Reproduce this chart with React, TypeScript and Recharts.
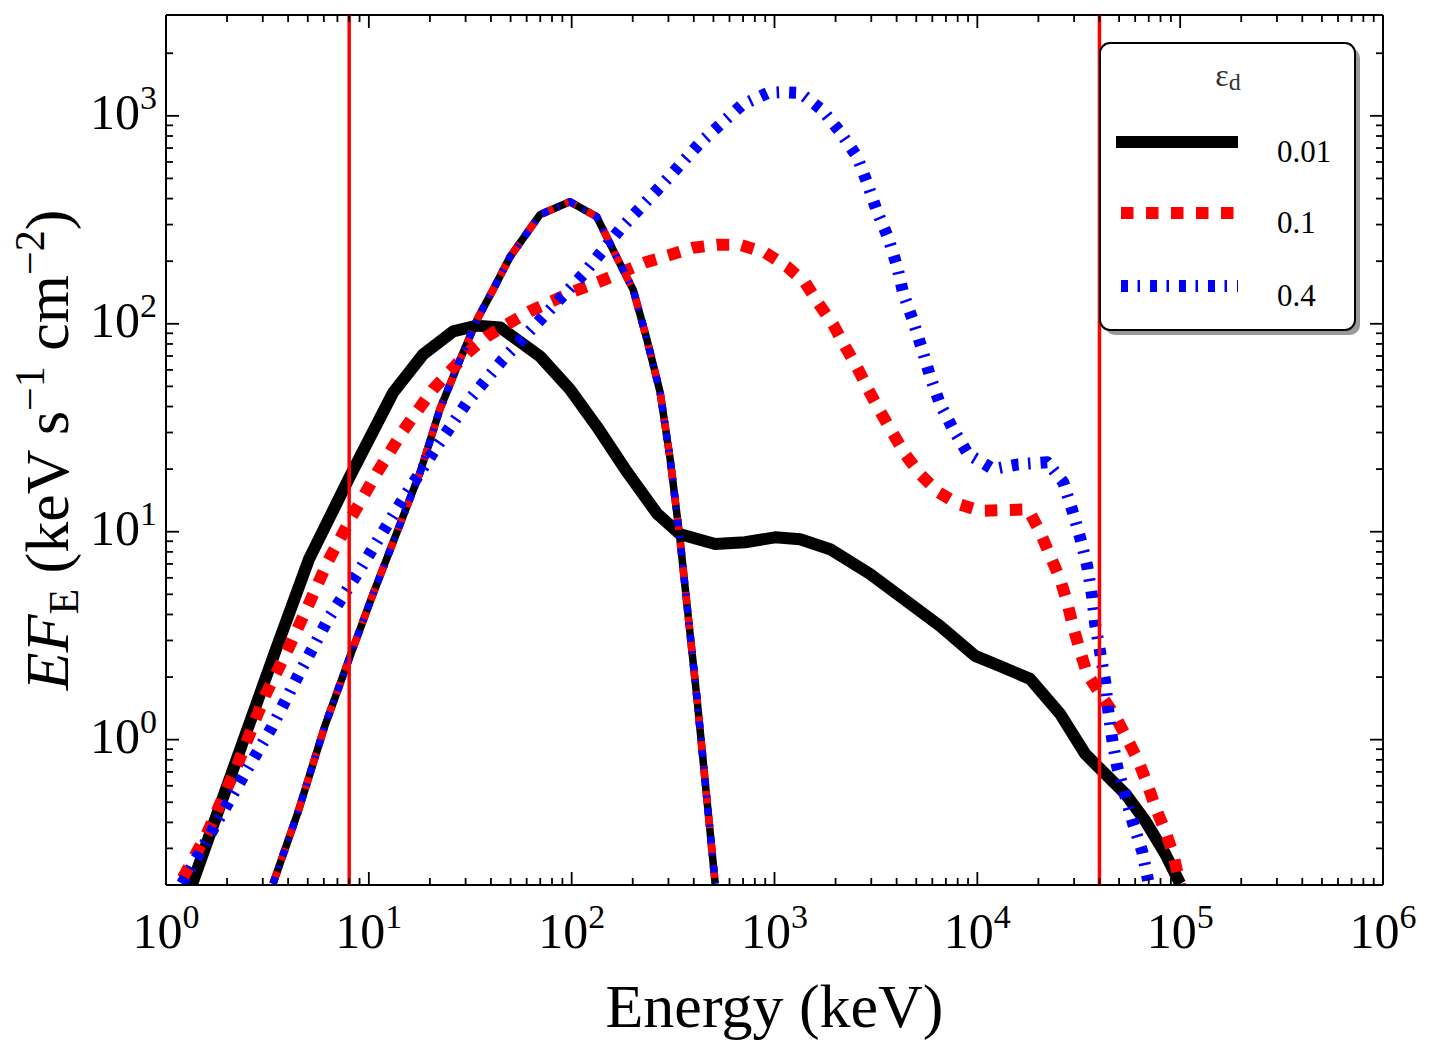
import React from 'react';
import { LineChart, Line, XAxis, YAxis, ReferenceLine, Label } from 'recharts';

const FONT = '"Liberation Serif", "Times New Roman", serif';

// spectra for three values of epsilon_d, energies in keV
const epsLabels = ['0.01', '0.1', '0.4'];

const e001 = [1.34, 3.49, 5.07, 8.08, 13.2, 18.5, 26, 34.2, 44.4, 69.8, 98, 133, 188, 264, 343, 510, 717, 1007, 1337, 1880, 2960, 6550, 9750, 12900, 18200, 25600, 34000, 40300, 53600, 67200, 84300, 100000];
const f001 = [0.2, 2.73, 7.38, 18.5, 46.8, 71.2, 91.9, 98, 96, 69.7, 48.4, 32.1, 19.3, 12.2, 9.73, 8.72, 8.9, 9.4, 9.2, 8.24, 6.26, 3.52, 2.53, 2.26, 1.96, 1.33, 0.855, 0.724, 0.55, 0.408, 0.283, 0.203];

const e01 = [1.21, 1.61, 2.24, 3.08, 4.0, 5.01, 6.3, 8.27, 11, 14.7, 20.7, 30.8, 38.3, 48, 62.3, 102, 138, 230, 397, 521, 677, 899, 1154, 1415, 1641, 1945, 2229, 2555, 2894, 3318, 3802, 4406, 5224, 6412, 8040, 10320, 13710, 17800, 20400, 22860, 25600, 27700, 29700, 32100, 34800, 40300, 47800, 54800, 62100, 68800, 75300, 84300, 92300, 100000];
const f01 = [0.216, 0.362, 0.75, 1.63, 2.73, 4.39, 7.23, 11.9, 19.3, 30.4, 48.4, 72.8, 86.9, 99.3, 115, 143, 160, 197, 232, 240, 240, 220, 188, 158, 126, 99.3, 77.8, 61.7, 48.4, 37.9, 30.1, 23.6, 18.9, 15.5, 13.6, 12.6, 12.7, 12.8, 9.95, 7.64, 5.92, 4.59, 3.48, 2.67, 2.07, 1.66, 1.3, 1.01, 0.792, 0.614, 0.476, 0.365, 0.283, 0.2];

const e04 = [1.2, 1.71, 2.4, 3.33, 4.48, 6.3, 8.75, 14.7, 21.7, 30.5, 45.9, 72.3, 114, 173, 273, 430, 692, 929, 1100, 1337, 1717, 2105, 2553, 2862, 3206, 3631, 4027, 4307, 4826, 5341, 5851, 6556, 7600, 9010, 11970, 15900, 22100, 26500, 29300, 32100, 34800, 36800, 38100, 40300, 42700, 44200, 46200, 48900, 53600, 58600, 65000, 69500];
const f04 = [0.203, 0.373, 0.664, 1.15, 2.03, 3.8, 6.25, 14.3, 25.8, 41.9, 67.4, 108, 173, 284, 456, 742, 1130, 1290, 1300, 1290, 1068, 838, 636, 477, 346, 260, 188, 141, 103, 75.3, 55.9, 41, 31.1, 23.6, 20, 21.1, 21.6, 17.3, 12.8, 9.4, 6.84, 4.91, 3.6, 2.64, 1.9, 1.38, 1.01, 0.741, 0.538, 0.395, 0.29, 0.21];

// narrow component, identical for all three runs
const eNarrow = [3.37, 4.48, 6.08, 7.9, 10.4, 17.9, 22.4, 28.2, 34.2, 41, 49.7, 69.8, 98, 133, 179, 201, 235, 273, 306, 342, 415, 510];
const fNarrow = [0.203, 0.45, 1.17, 2.37, 4.91, 19.3, 38.8, 67.4, 105, 146, 210, 335, 386, 327, 182, 146, 84, 46.8, 22.3, 9.2, 1.57, 0.203];

// instrument band edges (keV)
const bandEdges = [8, 40000];

const xExponents = [0, 1, 2, 3, 4, 5, 6];
const yExponents = [0, 1, 2, 3];

const zip = (e: number[], f: number[]) => e.map((v, i) => ({ e: v, f: f[i] }));

const styles = [
  { color: '#000000', dash: undefined },
  { color: '#ff0000', dash: '12.5 12.5' },
  { color: '#0000ff', dash: '7 9.5 2.5 10' },
];
const broad = [zip(e001, f001), zip(e01, f01), zip(e04, f04)];
const narrow = zip(eNarrow, fNarrow);

const minors = (from: number, to: number) => {
  const out: number[] = [];
  for (let k = from; k <= to; k++) for (let m = 2; m <= 9; m++) out.push(m * Math.pow(10, k));
  return out;
};
const xTicks = [...xExponents.map((p) => Math.pow(10, p)), ...minors(0, 5)].sort((a, b) => a - b);
const yTicks = [0.3, 0.4, 0.5, 0.6, 0.7, 0.8, 0.9, ...yExponents.map((p) => Math.pow(10, p)), ...minors(0, 2), 2000].sort((a, b) => a - b);

const isMajor = (v: number) => Math.abs(Math.log10(v) - Math.round(Math.log10(v))) < 1e-9;

const XTick = ({ x, y, payload, top }: any) => {
  const v = payload.value;
  const major = isMajor(v);
  const len = major ? 13 : 7;
  const dir = top ? 1 : -1;
  return (
    <g>
      <line x1={x} y1={y} x2={x} y2={y + dir * len} stroke="#000" strokeWidth={1.8} />
      {!top && major && (
        <text x={x} y={y + 63} textAnchor="middle" fontFamily={FONT} fontSize={50} fill="#000">
          10<tspan dy={-20} fontSize={34}>{Math.round(Math.log10(v))}</tspan>
        </text>
      )}
    </g>
  );
};

const YTick = ({ x, y, payload, right }: any) => {
  const v = payload.value;
  const major = isMajor(v);
  const len = major ? 13 : 7;
  const dir = right ? -1 : 1;
  return (
    <g>
      <line x1={x} y1={y} x2={x + dir * len} y2={y} stroke="#000" strokeWidth={1.8} />
      {!right && major && (
        <text x={x - 9} y={y + 13} textAnchor="end" fontFamily={FONT} fontSize={50} fill="#000">
          10<tspan dy={-20} fontSize={34}>{Math.round(Math.log10(v))}</tspan>
        </text>
      )}
    </g>
  );
};

const YTitle = ({ viewBox }: any) => {
  const cx = 68;
  const cy = viewBox.y + viewBox.height / 2;
  return (
    <text x={cx} y={cy} transform={`rotate(-90 ${cx} ${cy})`} textAnchor="middle" fontFamily={FONT} fontSize={62} fill="#000">
      <tspan fontStyle="italic">EF</tspan>
      <tspan fontSize={42} dy={10}>E</tspan>
      <tspan dy={-10}>{' (keV s'}</tspan>
      <tspan fontSize={42} dy={-24}>−1</tspan>
      <tspan dy={24}>{' cm'}</tspan>
      <tspan fontSize={42} dy={-24}>−2</tspan>
      <tspan dy={24}>)</tspan>
    </text>
  );
};

const XTitle = ({ viewBox }: any) => (
  <text x={viewBox.x + viewBox.width / 2} y={1027} textAnchor="middle" fontFamily={FONT} fontSize={62} fill="#000">
    Energy (keV)
  </text>
);

function LegendBox() {
  const rows = [142, 213, 286];
  return (
    <svg width={270} height={300} style={{ position: 'absolute', left: 1095, top: 38 }}>
      <rect x={10} y={10} width={255} height={287} rx={10} fill="#999" />
      <rect x={5} y={5} width={255} height={287} rx={10} fill="#fff" stroke="#000" strokeWidth={2} />
      <text x={133} y={48} textAnchor="middle" fontFamily={FONT} fontSize={32} fill="#333">
        ε<tspan dy={4} fontSize={24}>d</tspan>
      </text>
      {epsLabels.map((lab, i) => (
        <g key={lab}>
          <line
            x1={21}
            x2={143}
            y1={rows[i] - 38}
            y2={rows[i] - 38}
            stroke={styles[i].color}
            strokeWidth={12}
            strokeDasharray={styles[i].dash}
            strokeDashoffset={styles[i].dash ? -5 : 0}
          />
          <text x={182} y={rows[i] - 38 + 20} fontFamily={FONT} fontSize={31} fill="#000">
            {lab}
          </text>
        </g>
      ))}
    </svg>
  );
}

export default function App() {
  return (
    <div style={{ position: 'absolute', left: 0, top: 0, width: 1431, height: 1056, background: '#fff' }}>
      <LineChart width={1431} height={1056} margin={{ top: 14, right: 47, bottom: 0, left: 0 }}>
        <XAxis
          xAxisId="b"
          dataKey="e"
          type="number"
          scale="log"
          domain={[1, 1e6]}
          allowDataOverflow
          ticks={xTicks}
          interval={0}
          tickSize={0}
          tickMargin={0}
          tickLine={false}
          axisLine={{ stroke: '#000', strokeWidth: 2 }}
          height={171}
          tick={(p: any) => <XTick {...p} />}
        >
          <Label content={XTitle} />
        </XAxis>
        <XAxis
          xAxisId="t"
          orientation="top"
          dataKey="e"
          type="number"
          scale="log"
          domain={[1, 1e6]}
          allowDataOverflow
          ticks={xTicks}
          interval={0}
          tickSize={0}
          tickMargin={0}
          tickLine={false}
          axisLine={{ stroke: '#000', strokeWidth: 2 }}
          height={1}
          tick={(p: any) => <XTick {...p} top />}
        />
        <YAxis
          yAxisId="l"
          type="number"
          scale="log"
          domain={[0.2, 3055]}
          allowDataOverflow
          ticks={yTicks}
          interval={0}
          tickSize={0}
          tickMargin={0}
          tickLine={false}
          axisLine={{ stroke: '#000', strokeWidth: 2 }}
          width={166}
          tick={(p: any) => <YTick {...p} />}
        >
          <Label content={YTitle} />
        </YAxis>
        <YAxis
          yAxisId="r"
          orientation="right"
          type="number"
          scale="log"
          domain={[0.2, 3055]}
          allowDataOverflow
          ticks={yTicks}
          interval={0}
          tickSize={0}
          tickMargin={0}
          tickLine={false}
          axisLine={{ stroke: '#000', strokeWidth: 2 }}
          width={1}
          tick={(p: any) => <YTick {...p} right />}
        />
        {styles.flatMap((s, i) => [
          <Line
            key={`broad-${i}`}
            xAxisId="b"
            yAxisId="l"
            data={broad[i]}
            dataKey="f"
            type="linear"
            stroke={s.color}
            strokeWidth={12}
            strokeDasharray={s.dash}
            strokeLinejoin="round"
            dot={false}
            activeDot={false}
            isAnimationActive={false}
          />,
          <Line
            key={`narrow-${i}`}
            xAxisId="b"
            yAxisId="l"
            data={narrow}
            dataKey="f"
            type="linear"
            stroke={s.color}
            strokeWidth={7.5}
            strokeDasharray={s.dash}
            strokeLinejoin="round"
            dot={false}
            activeDot={false}
            isAnimationActive={false}
          />,
        ])}
        {bandEdges.map((e) => (
          <ReferenceLine key={e} xAxisId="b" yAxisId="l" x={e} stroke="#ff0000" strokeWidth={3.5} zIndex={600} />
        ))}
      </LineChart>
      <LegendBox />
    </div>
  );
}
